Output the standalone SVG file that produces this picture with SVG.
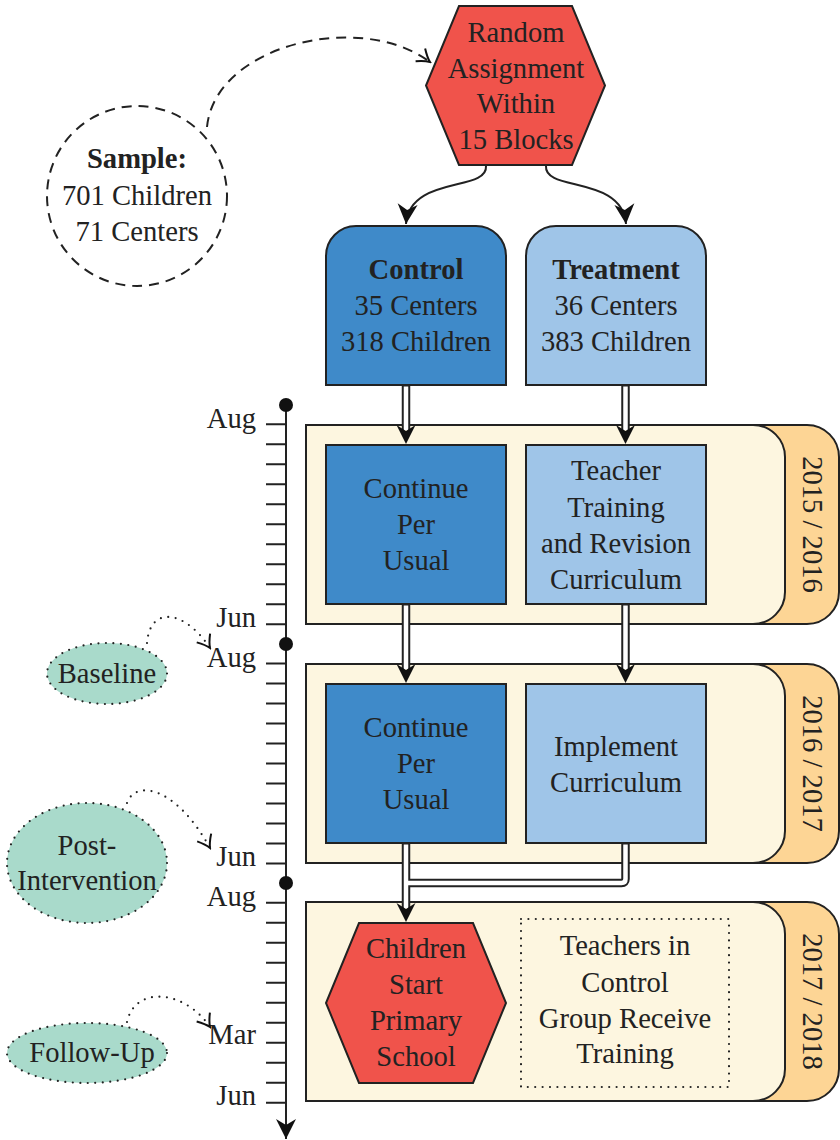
<svg xmlns="http://www.w3.org/2000/svg" width="840" height="1140" viewBox="0 0 840 1140">
<defs>
<style>
.t{font-family:"Liberation Serif","Times New Roman",serif;font-size:28.6px;fill:#222;text-anchor:middle}
.b{font-weight:bold}
.lab{text-anchor:end}
.ln{stroke:#222;stroke-width:2;fill:none}
.hex{fill:#f0534b;stroke:#222;stroke-width:2}
.ctl{fill:#3f8ac9;stroke:#222;stroke-width:2}
.trt{fill:#9fc5e8;stroke:#222;stroke-width:2}
.panel{fill:#fdf6e0;stroke:#222;stroke-width:2}
.tab{fill:#fdd595;stroke:#222;stroke-width:2}
.ell{fill:#a9dacb;stroke:#222;stroke-width:2.2;stroke-dasharray:0 7.5;stroke-linecap:round}
.dots{fill:none;stroke:#222;stroke-width:2.2;stroke-dasharray:0 7.5;stroke-linecap:round}
.dbo{stroke:#222;stroke-width:8.5;fill:none;stroke-linejoin:round}
.dbi{stroke:#fff;stroke-width:4.5;fill:none;stroke-linejoin:round}
.ah{fill:#111}
</style>
<marker id="stealth" viewBox="-21 -11 22 22" markerWidth="22" markerHeight="22" refX="0" refY="0" orient="auto" markerUnits="userSpaceOnUse">
<path d="M0 0 L-20 -10 L-14 0 L-20 10 Z" fill="#111"/>
</marker>
<marker id="vee" viewBox="-14 -10 16 20" markerWidth="16" markerHeight="20" refX="0" refY="0" orient="auto" markerUnits="userSpaceOnUse">
<path d="M-12 -8 Q-5 -2 0 0 Q-5 2 -12 8" fill="none" stroke="#111" stroke-width="2" stroke-dasharray="none"/>
</marker>
</defs>
<rect width="840" height="1140" fill="#fff"/>

<!-- year panels -->
<g id="year1">
<rect class="tab" x="700" y="425" width="139" height="199" rx="32"/>
<path class="panel" d="M306 425 H753 A32 32 0 0 1 785 457 V592 A32 32 0 0 1 753 624 H306 Z"/>
<text class="t" transform="translate(803,524.5) rotate(90)">2015 / 2016</text>
</g>
<g id="year2">
<rect class="tab" x="700" y="664" width="139" height="199" rx="32"/>
<path class="panel" d="M306 664 H753 A32 32 0 0 1 785 696 V831 A32 32 0 0 1 753 863 H306 Z"/>
<text class="t" transform="translate(803,763.5) rotate(90)">2016 / 2017</text>
</g>
<g id="year3">
<rect class="tab" x="700" y="902" width="139" height="199" rx="32"/>
<path class="panel" d="M306 902 H753 A32 32 0 0 1 785 934 V1069 A32 32 0 0 1 753 1101 H306 Z"/>
<text class="t" transform="translate(803,1001.5) rotate(90)">2017 / 2018</text>
</g>

<!-- timeline -->
<g id="timeline">
<line class="ln" x1="286" y1="405" x2="286" y2="1139" marker-end="url(#stealth)"/>
<circle cx="286" cy="405" r="7" fill="#111"/>
<circle cx="286" cy="644" r="7" fill="#111"/>
<circle cx="286" cy="883" r="7" fill="#111"/>
<path class="ln" d="M266 424.3H286M266 444.3H286M266 464.3H286M266 484.3H286M266 504.3H286M266 524.3H286M266 544.3H286M266 564.3H286M266 584.3H286M266 604.3H286M266 624.3H286
M266 663.5H286M266 683.5H286M266 703.5H286M266 723.5H286M266 743.5H286M266 763.5H286M266 783.5H286M266 803.5H286M266 823.5H286M266 843.5H286M266 863.5H286
M266 902.7H286M266 922.7H286M266 942.7H286M266 962.7H286M266 982.7H286M266 1002.7H286M266 1022.7H286M266 1042.7H286M266 1062.7H286M266 1082.7H286M266 1102.7H286"/>
<text class="t lab" x="256" y="428">Aug</text>
<text class="t lab" x="256" y="627">Jun</text>
<text class="t lab" x="256" y="667">Aug</text>
<text class="t lab" x="256" y="866">Jun</text>
<text class="t lab" x="256" y="906">Aug</text>
<text class="t lab" x="256" y="1044">Mar</text>
<text class="t lab" x="256" y="1105">Jun</text>
</g>

<!-- nodes -->
<g id="sample">
<circle cx="137" cy="196" r="90" fill="none" stroke="#222" stroke-width="2" stroke-dasharray="10 7"/>
<text class="t b" x="137" y="168">Sample:</text>
<text class="t" x="137" y="205">701 Children</text>
<text class="t" x="137" y="241">71 Centers</text>
</g>
<g id="random">
<polygon class="hex" points="459,6 572,6 605,85.5 572,165 459,165 426,85.5"/>
<text class="t" x="516" y="42">Random</text>
<text class="t" x="516" y="77.5">Assignment</text>
<text class="t" x="516" y="113">Within</text>
<text class="t" x="516" y="148.5">15 Blocks</text>
</g>
<g id="control">
<path class="ctl" d="M326 385 V256 A30 30 0 0 1 356 226 H476 A30 30 0 0 1 506 256 V385 Z"/>
<text class="t b" x="416" y="279">Control</text>
<text class="t" x="416" y="315">35 Centers</text>
<text class="t" x="416" y="351">318 Children</text>
</g>
<g id="treatment">
<path class="trt" d="M526 385 V256 A30 30 0 0 1 556 226 H676 A30 30 0 0 1 706 256 V385 Z"/>
<text class="t b" x="616" y="279">Treatment</text>
<text class="t" x="616" y="315">36 Centers</text>
<text class="t" x="616" y="351">383 Children</text>
</g>
<g id="continue1">
<rect class="ctl" x="326" y="445" width="180" height="159"/>
<text class="t" x="416" y="498">Continue</text>
<text class="t" x="416" y="534">Per</text>
<text class="t" x="416" y="570">Usual</text>
</g>
<g id="training">
<rect class="trt" x="526" y="445" width="180" height="159"/>
<text class="t" x="616" y="480">Teacher</text>
<text class="t" x="616" y="516.5">Training</text>
<text class="t" x="616" y="553">and Revision</text>
<text class="t" x="616" y="589">Curriculum</text>
</g>
<g id="continue2">
<rect class="ctl" x="326" y="684" width="180" height="159"/>
<text class="t" x="416" y="737">Continue</text>
<text class="t" x="416" y="773">Per</text>
<text class="t" x="416" y="809">Usual</text>
</g>
<g id="implement">
<rect class="trt" x="526" y="684" width="180" height="159"/>
<text class="t" x="616" y="756">Implement</text>
<text class="t" x="616" y="792">Curriculum</text>
</g>
<g id="children">
<polygon class="hex" points="359,923 473,923 506,1003 473,1083 359,1083 326,1003"/>
<text class="t" x="416" y="958">Children</text>
<text class="t" x="416" y="993.5">Start</text>
<text class="t" x="416" y="1029.5">Primary</text>
<text class="t" x="416" y="1066">School</text>
</g>
<g id="teachers">
<rect x="521" y="919" width="208" height="168" fill="none" stroke="#222" stroke-width="2.2" stroke-dasharray="0 7.4" stroke-linecap="round"/>
<text class="t" x="625" y="955">Teachers in</text>
<text class="t" x="625" y="992">Control</text>
<text class="t" x="625" y="1027.5">Group Receive</text>
<text class="t" x="625" y="1063">Training</text>
</g>
<g id="baseline">
<ellipse class="ell" cx="107" cy="673.5" rx="60" ry="30.5"/>
<text class="t" x="107" y="683">Baseline</text>
</g>
<g id="post">
<ellipse class="ell" cx="87" cy="863" rx="80" ry="60"/>
<text class="t" x="87" y="855">Post-</text>
<text class="t" x="87" y="890">Intervention</text>
</g>
<g id="followup">
<ellipse class="ell" cx="87" cy="1053" rx="80" ry="30"/>
<text class="t" x="92" y="1062">Follow-Up</text>
</g>

<!-- connectors -->
<g id="connectors">
<path d="M207 127 C215 45, 360 10, 430 62" fill="none" stroke="#222" stroke-width="2" stroke-dasharray="10 7" marker-end="url(#vee)"/>
<path class="dots" d="M147 643 C150 605, 185 610, 210 648" marker-end="url(#vee)"/>
<path class="dots" d="M127 803 C135 780, 175 785, 210 848" marker-end="url(#vee)"/>
<path class="dots" d="M127 1022 C135 985, 185 990, 210 1027" marker-end="url(#vee)"/>
<path class="ln" d="M486 166 C488 192, 410 175, 406 224" marker-end="url(#stealth)"/>
<path class="ln" d="M546 166 C544 192, 622 175, 626 224" marker-end="url(#stealth)"/>

<path class="dbo" d="M406 385 V430"/>
<path class="dbo" d="M625.5 385 V430"/>
<path class="dbo" d="M406 604 V669"/>
<path class="dbo" d="M625.5 604 V669"/>
<path class="dbo" d="M406 843 V908"/>
<path class="dbo" d="M625.5 843 V879 Q625.5 883 621.5 883 H406"/>
<path class="dbi" d="M406 386.5 V430"/>
<path class="dbi" d="M625.5 386.5 V430"/>
<path class="dbi" d="M406 605.5 V669"/>
<path class="dbi" d="M625.5 605.5 V669"/>
<path class="dbi" d="M406 844.5 V908"/>
<path class="dbi" d="M625.5 844.5 V879 Q625.5 883 621.5 883 H406"/>
<path class="ah" d="M406 444 L396.5 425 L406 431 L415.5 425 Z"/>
<path class="ah" d="M625.5 444 L616 425 L625.5 431 L635 425 Z"/>
<path class="ah" d="M406 683 L396.5 664 L406 670 L415.5 664 Z"/>
<path class="ah" d="M625.5 683 L616 664 L625.5 670 L635 664 Z"/>
<path class="ah" d="M406 922 L396.5 903 L406 909 L415.5 903 Z"/>
</g>
</svg>
